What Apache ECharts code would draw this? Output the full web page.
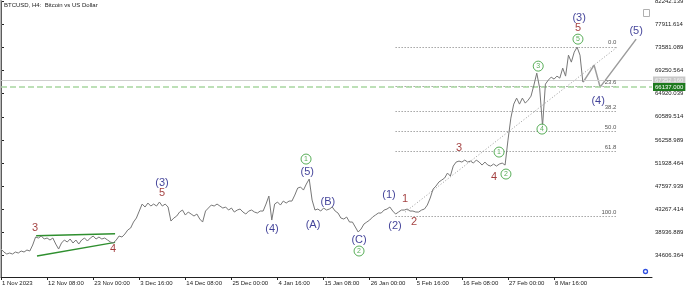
<!DOCTYPE html>
<html>
<head>
<meta charset="utf-8">
<script src="https://cdn.jsdelivr.net/npm/echarts@6/dist/echarts.min.js"></script>
<style>html,body{margin:0;padding:0;background:#fff}#c{width:690px;height:288px}</style>
</head>
<body>
<div id="c"></div>
<script>
// ---- data ----
const tickLabels = ['1 Nov 2023','12 Nov 08:00','23 Nov 00:00','3 Dec 16:00','14 Dec 08:00','25 Dec 00:00','4 Jan 16:00','15 Jan 08:00','26 Jan 00:00','5 Feb 16:00','16 Feb 08:00','27 Feb 00:00','8 Mar 16:00'];
const tickPositions = [0,16,32,48,64,80,96,112,128,144,160,176,192];
const priceTicks = [34606.364,38936.889,43267.414,47597.939,51928.464,56258.989,60589.514,64920.039,69250.564,73581.089,77911.614,82242.139];
const prices = [
35859,35298,34924,35111,34924,35298,35111,35485,35298,35672,
35485,36606,38102,37915,38289,37728,37915,37541,37915,36793,
35859,36980,37541,37167,37728,36980,37541,36793,37541,37915,
37354,37915,38289,37728,38102,37728,37915,37541,37167,36980,
37541,38289,38102,38662,39410,39784,40905,41653,42961,44269,
43709,44456,43896,44269,43896,44643,43896,44269,43709,41092,
41653,42027,42774,43148,42213,42774,42400,42027,42400,41466,
40905,42961,43522,44082,43896,44269,43896,43522,43709,43148,
43522,42774,43148,43335,42774,42400,42961,43148,42774,42587,
42961,42961,44269,45765,41279,44269,44643,44082,44830,44456,
44830,44830,45951,47260,47447,46886,48007,48942,45017,43148,
43335,42961,43522,43148,43335,43709,42961,42587,41653,41466,
41840,40905,40905,39971,39036,39597,40531,40905,41279,41840,
42213,42587,42587,43148,43335,43709,42961,42400,42774,43148,
43148,43335,42961,42961,42774,42774,43148,43335,44082,45391,
47073,47634,48381,48755,49129,50063,49503,51372,52119,52306,
52119,52493,52119,52306,51932,52493,52119,51558,52119,51558,
51372,51745,51372,51745,51932,51558,56231,60343,62959,64081,
62959,64081,63146,63707,64455,66510,68753,65950,58848,66697,
67445,68006,67632,68193,67819,69688,68193,72117,70809,72678,
73613,72117,67071
];
const projX = [202.1, 205.9, 208, 220.5];
const projY = [67071, 70249, 66137, 75108];
const fibNames = ['0.0','23.6','38.2','50.0','61.8','100.0'];
const fibValues = [73670, 66230, 61595, 57876, 54082, 42027];
const fibRange = [137, 214];
const trendX = [140.3, 213.9];
const trendY = [42774, 73613];
const triUpperX = [12.2, 39.6], triUpperY = [38344, 38718];
const triLowerX = [12.5, 39.6], triLowerY = [34551, 37112];
const bidValue = 67352, bidText = '67352.160';
const askValue = 66137, askText = '66137.000';
const navyText = ['(3)','(4)','(5)','(A)','(B)','(C)','(1)','(2)','(3)','(4)','(5)'];
const navyX =    [55.9, 94.1, 106.3, 108.3, 113.5, 124.3, 134.7, 136.8, 200.7, 207.3, 220.5];
const navyY =    [48194,39597,50250,40345,44643,37541,45951,40157,79033,63520,76603];
const redText = ['3','4','5','1','2','3','4','5'];
const redX =    [11.8, 38.9, 55.9, 140.3, 143.4, 159.0, 171.2, 200.3];
const redY =    [39784,35859,46325,45204,40905,54736,49316,77164];
const greenText = ['1','2','1','2','3','4','5'];
const greenX =    [105.9, 124.3, 172.9, 175.3, 186.5, 187.8, 200.3];
const greenY =    [52680, 35485, 53988, 49877, 70062, 58287, 75108];

// ---- chart ----
const FONT = '"Liberation Sans", Arial, sans-serif';
const chart = echarts.init(document.getElementById('c'), null, {renderer: 'canvas'});
const pairs = (xs, ys) => xs.map((x, i) => [x, ys[i]]);

const fibLines = fibValues.map((v, k) => [
  {coord: [fibRange[0], v], label: {show: true, formatter: fibNames[k], position: 'insideEndTop', fontSize: 6, color: '#555', fontFamily: FONT, distance: 1}},
  {coord: [fibRange[1], v]}
]);

const labelSeries = (texts, xs, ys, color, size) => ({
  type: 'scatter', symbol: 'circle', symbolSize: 0.1, itemStyle: {color: 'rgba(0,0,0,0)'},
  silent: true, z: 10,
  data: xs.map((x, i) => ({value: [x, ys[i]], label: {formatter: texts[i]}})),
  label: {show: true, position: 'inside', color: color, fontSize: size, fontFamily: FONT}
});

chart.setOption({
  animation: false,
  backgroundColor: '#ffffff',
  title: {text: 'BTCUSD, H4:  Bitcoin vs US Dollar', left: 4, top: 2, padding: 0,
    textStyle: {fontSize: 6, fontWeight: 'normal', color: '#222', fontFamily: FONT}},
  grid: {left: 1, right: 38, top: 1, bottom: 11, containLabel: false, outerBoundsMode: 'none'},
  xAxis: {
    type: 'value', min: 0, max: 226,
    axisLine: {show: true, lineStyle: {color: '#222', width: 1}},
    axisTick: {show: true, length: 3, customValues: tickPositions, lineStyle: {color: '#222'}},
    axisLabel: {customValues: tickPositions, formatter: v => tickLabels[Math.round(v / 16)] || '',
      align: 'left', fontSize: 6, color: '#222', margin: 3, fontFamily: FONT, padding: [0,0,0,1]},
    splitLine: {show: false}
  },
  yAxis: {
    type: 'value', position: 'right', min: 30626, max: 82242.139, scale: true,
    axisLine: {show: true, lineStyle: {color: '#000', width: 1}},
    axisTick: {show: true, length: 3, customValues: priceTicks, lineStyle: {color: '#222'}},
    axisLabel: {customValues: priceTicks, formatter: v => v.toFixed(3),
      fontSize: 6, color: '#222', margin: 3, fontFamily: FONT},
    splitLine: {show: false}
  },
  graphic: [
    {type: 'line', shape: {x1: 0.5, y1: 0, x2: 0.5, y2: 277}, style: {stroke: '#b8b8b8', lineWidth: 2}, z: 100},
    {type: 'rect', shape: {x: 643.5, y: 9.5, width: 6, height: 7}, style: {fill: '#fff', stroke: '#b0b0b0', lineWidth: 1}, z: 100},
    {type: 'circle', shape: {cx: 645.5, cy: 271.5, r: 2}, style: {fill: 'none', stroke: '#3050e0', lineWidth: 1.3}, z: 100}
  ],
  series: [
    {
      type: 'line', data: [], silent: true,
      markLine: {silent: true, symbol: 'none', animation: false,
        data: fibLines.concat([
          [{coord: [trendX[0], trendY[0]], lineStyle: {color: '#9a9a9a', type: [1, 2], width: 1}},
           {coord: [trendX[1], trendY[1]]}]
        ]),
        lineStyle: {color: '#777', type: [1, 2], width: 1},
        label: {show: false}
      }
    },
    {
      type: 'line', data: [], silent: true,
      markLine: {silent: true, symbol: 'none', animation: false,
        data: [
          [{coord: [triUpperX[0], triUpperY[0]]}, {coord: [triUpperX[1], triUpperY[1]]}],
          [{coord: [triLowerX[0], triLowerY[0]]}, {coord: [triLowerX[1], triLowerY[1]]}]
        ],
        lineStyle: {color: '#2f8f2f', type: 'solid', width: 1.3},
        label: {show: false}
      }
    },
    {
      type: 'line', data: prices.map((v, i) => [i, v]), showSymbol: false, symbol: 'none',
      lineStyle: {color: '#777777', width: 1}, z: 5,
      markLine: {silent: true, symbol: 'none', animation: false,
        data: [
          {yAxis: bidValue, lineStyle: {color: '#cfcfcf', type: 'solid', width: 1},
            label: {show: true, position: 'end', formatter: bidText, backgroundColor: '#c8c8c8', color: '#f4f4f4',
              fontSize: 6, padding: [1, 2, 1, 2], distance: 1, fontFamily: FONT}},
          {yAxis: askValue, lineStyle: {color: '#a8d6a0', type: [6, 3], width: 1.5},
            label: {show: true, position: 'end', formatter: askText, backgroundColor: '#1e7a1e', color: '#ffffff',
              fontSize: 6, padding: [1, 2, 1, 2], distance: 1, fontFamily: FONT}}
        ]
      }
    },
    {
      type: 'line', data: pairs(projX, projY), showSymbol: false, symbol: 'none',
      lineStyle: {color: '#9c9c9c', width: 1.5}, z: 4
    },
    labelSeries(navyText, navyX, navyY, '#10107e', 11),
    labelSeries(redText, redX, redY, '#8b0c0c', 11),
    {
      type: 'scatter', symbol: 'circle', symbolSize: 10, silent: true, z: 11,
      itemStyle: {color: '#ffffff', borderColor: '#2f9a2f', borderWidth: 1},
      data: pairs(greenX, greenY).map((p, i) => ({value: p, label: {formatter: greenText[i]}})),
      label: {show: true, position: 'inside', color: '#2f9a2f', fontSize: 7, fontFamily: FONT}
    }
  ]
});
</script>
</body>
</html>
